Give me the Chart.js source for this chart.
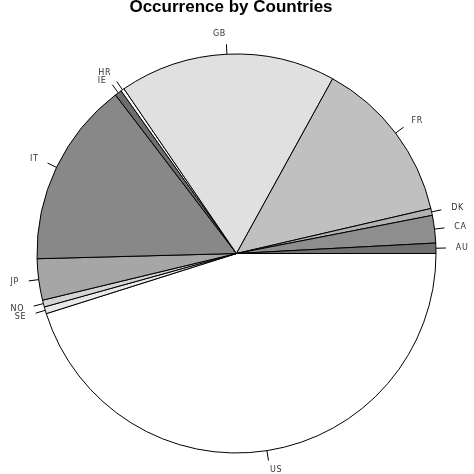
<!DOCTYPE html>
<html lang="en">
<head>
  <meta charset="UTF-8">
  <title>Occurrence by Countries</title>
  <script src="https://cdn.jsdelivr.net/npm/chart.js"></script>
  <style>
    html, body {
      margin: 0;
      padding: 0;
      background: #fff;
    }
    #wrap {
      width: 474px;
      height: 474px;
    }
  </style>
</head>
<body>
<div id="wrap">
  <canvas id="pieChart" width="474" height="474"></canvas>
</div>
<script>
  // Countries, in the order R draws them (counterclockwise from 3 o'clock)
  const countries = ['AU', 'CA', 'DK', 'FR', 'GB', 'HR', 'IE', 'IT', 'JP', 'NO', 'SE', 'US'];
  // Occurrences
  const occurrences = [3, 8, 2, 48, 63, 1, 2, 54, 12, 2, 2, 162];
  const greys = ['#707070', '#8e8e8e', '#b2b2b2', '#c0c0c0', '#e0e0e0', '#ffffff',
                 '#6e6e6e', '#888888', '#a6a6a6', '#d4d4d4', '#e8e8e8', '#ffffff'];
  const chartTitle = 'Occurrence by Countries';

  // Chart.js goes clockwise from the top: reverse and start at 3 o'clock
  const revLabels = countries.slice().reverse();
  const revValues = occurrences.slice().reverse();
  const revColors = greys.slice().reverse();

  // Labels outside the pie with a small tick, like R's pie()
  const outerLabels = {
    id: 'outerLabels',
    afterDraw(chart) {
      const ctx = chart.ctx;
      const arcs = chart.getDatasetMeta(0).data;
      ctx.save();
      ctx.strokeStyle = '#000';
      ctx.lineWidth = 1;
      ctx.fillStyle = '#333';
      ctx.font = '8px "DejaVu Sans"';
      ctx.letterSpacing = '0.6px';
      ctx.textBaseline = 'middle';
      let prev = null;
      // walk in R order so close neighbours get pushed apart
      for (let k = arcs.length - 1; k >= 0; k--) {
        const p = arcs[k].getProps(['x', 'y', 'startAngle', 'endAngle', 'outerRadius'], true);
        const mid = (p.startAngle + p.endAngle) / 2;
        const cx = Math.cos(mid), cy = Math.sin(mid);
        const r = p.outerRadius;
        ctx.beginPath();
        ctx.moveTo(p.x + cx * r, p.y + cy * r);
        ctx.lineTo(p.x + cx * r * 1.05, p.y + cy * r * 1.05);
        ctx.stroke();
        const tx = p.x + cx * r * 1.1;
        let ty = p.y + cy * r * 1.1;
        if (prev && prev.side === (cx < 0) && Math.abs(ty - prev.y) < 8) {
          ty = prev.y + (ty >= prev.y ? 8 : -8);
        }
        ctx.textAlign = cx < 0 ? 'right' : 'left';
        ctx.fillText(revLabels[k], tx, ty);
        prev = { y: ty, side: cx < 0 };
      }
      ctx.letterSpacing = '0px';
      ctx.fillStyle = '#000';
      ctx.font = 'bold 17px "Liberation Sans"';
      ctx.textAlign = 'center';
      ctx.textBaseline = 'alphabetic';
      ctx.fillText(chartTitle, 231, 12);
      ctx.restore();
    }
  };

  new Chart(document.getElementById('pieChart'), {
    type: 'pie',
    data: {
      labels: revLabels,
      datasets: [{
        data: revValues,
        backgroundColor: revColors,
        borderColor: '#000',
        borderWidth: 1
      }]
    },
    options: {
      responsive: false,
      animation: false,
      rotation: 90,
      layout: {
        padding: { left: 36.5, right: 37.5, top: 53.5, bottom: 20.5 }
      },
      plugins: {
        legend: { display: false },
        tooltip: { enabled: false }
      }
    },
    plugins: [outerLabels]
  });
</script>
</body>
</html>
